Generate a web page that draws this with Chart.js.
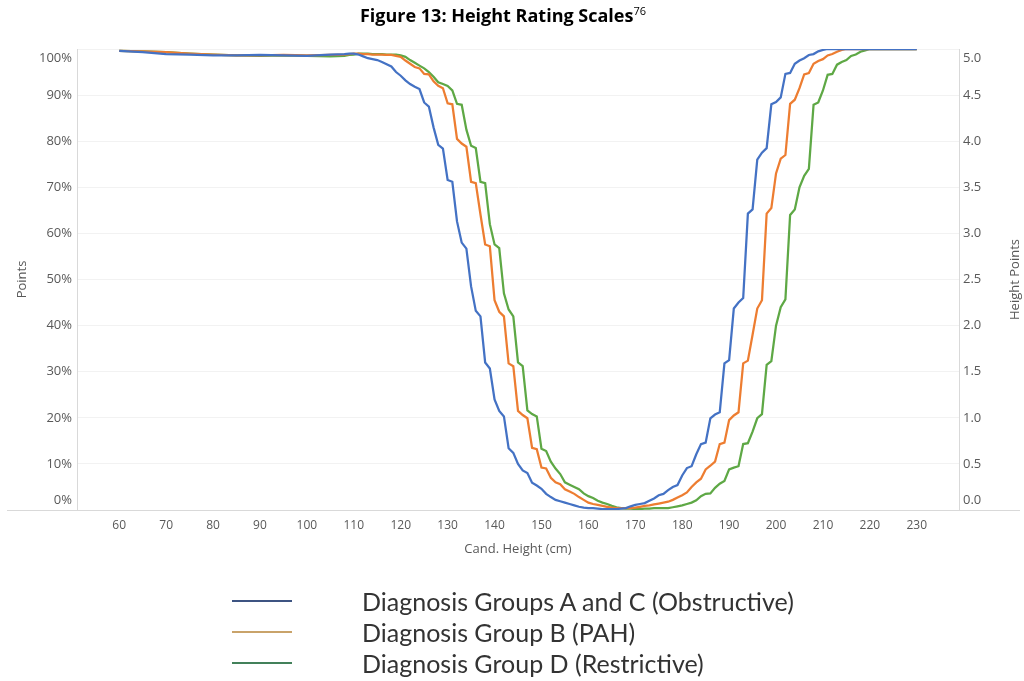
<!DOCTYPE html>
<html>
<head>
<meta charset="utf-8">
<script src="https://cdn.jsdelivr.net/npm/chart.js@4.4.0/dist/chart.umd.min.js"></script>
<style>
  html, body { margin: 0; padding: 0; background: #fff; }
  #wrap { position: relative; width: 1024px; height: 681px; overflow: hidden; font-family: "Open Sans", sans-serif; }
  #chart { position: absolute; left: 0; top: 0; }
  #title { position: absolute; left: 0; top: 3px; width: 1006px; text-align: center; font-weight: bold; font-size: 18px; color: #000; }
  #title sup { font-weight: normal; font-size: 11px; }
  #legend { position: absolute; left: 232px; top: 585px; }
  .row { height: 31px; display: flex; align-items: center; }
  .swatch { width: 60px; height: 2px; margin-right: 70px; }
  .label { font-family: Lato, sans-serif; font-size: 25px; color: #333; white-space: nowrap; }
</style>
</head>
<body>
<div id="wrap">
  <canvas id="chart" width="1024" height="681"></canvas>
  <div id="title">Figure 13: Height Rating Scales<sup>76</sup></div>
  <div id="legend"></div>
</div>
<script>
// Candidate height (cm)
const heights = [60, 65, 70, 75, 80, 85, 90, 95, 100, 105,
  108, 109, 110, 111, 112, 113, 114, 115, 116, 117,
  118, 119, 120, 121, 122, 123, 124, 125, 126, 127,
  128, 129, 130, 131, 132, 133, 134, 135, 136, 137,
  138, 139, 140, 141, 142, 143, 144, 145, 146, 147,
  148, 149, 150, 151, 152, 153, 154, 155, 156, 157,
  158, 159, 160, 161, 162, 163, 164, 165, 166, 167,
  168, 169, 170, 171, 172, 173, 174, 175, 176, 177,
  178, 179, 180, 181, 182, 183, 184, 185, 186, 187,
  188, 189, 190, 191, 192, 193, 194, 195, 196, 197,
  198, 199, 200, 201, 202, 203, 204, 205, 206, 207,
  208, 209, 210, 211, 212, 213, 214, 215, 216, 217,
  218, 219, 220, 221, 222, 225, 230]

// Points (%) per diagnosis group
const groupAC = [99.6, 99.3, 98.9, 98.8, 98.6, 98.6, 98.7, 98.6, 98.5, 98.8,
  98.9, 99.0, 99.0, 98.8, 98.4, 98.0, 97.8, 97.6, 97.2, 96.7,
  96.2, 95.0, 94.2, 93.2, 92.4, 91.8, 91.3, 88.4, 87.5, 83.0,
  79.2, 78.4, 71.6, 71.2, 62.6, 58.0, 56.7, 48.5, 43.2, 42.0,
  32.0, 30.7, 24.0, 21.5, 20.3, 13.4, 12.4, 10.0, 8.6, 8.0,
  5.9, 5.3, 4.6, 3.5, 2.8, 2.2, 1.9, 1.6, 1.3, 1.0,
  0.7, 0.5, 0.4, 0.4, 0.3, 0.2, 0.2, 0.2, 0.2, 0.3,
  0.4, 0.8, 1.1, 1.3, 1.5, 2.0, 2.5, 3.2, 3.5, 4.3,
  5.0, 5.4, 7.5, 9.1, 9.5, 12.1, 14.3, 14.6, 19.9, 20.7,
  21.2, 31.8, 32.5, 43.7, 45.0, 46.0, 64.3, 65.2, 76.0, 77.5,
  78.5, 88.0, 88.5, 89.5, 94.6, 94.8, 96.8, 97.5, 98.0, 98.7,
  98.9, 99.5, 99.8, 100, 100, 100, 100, 100, 100, 100,
  100, 100, 100, 100, 100, 100, 100]

const groupB = [99.6, 99.5, 99.3, 99.0, 98.8, 98.6, 98.6, 98.7, 98.6, 98.7,
  98.8, 98.9, 99.0, 99.0, 98.9, 98.9, 98.8, 98.8, 98.8, 98.7,
  98.7, 98.5, 98.3, 97.5, 96.8, 96.1, 95.8, 94.6, 94.5, 93.0,
  92.0, 91.5, 88.2, 88.0, 80.5, 79.5, 78.8, 71.2, 70.9, 64.1,
  57.6, 57.2, 45.5, 43.0, 42.0, 31.8, 31.2, 21.5, 20.6, 19.9,
  13.5, 13.2, 9.2, 9.0, 7.0, 6.0, 5.6, 4.5, 4.0, 3.5,
  2.8, 2.2, 1.6, 1.3, 1.1, 0.9, 0.7, 0.5, 0.4, 0.4,
  0.4, 0.4, 0.5, 0.7, 0.9, 1.0, 1.2, 1.4, 1.6, 1.8,
  2.2, 2.7, 3.2, 3.8, 5.0, 6.0, 6.8, 8.8, 9.6, 10.5,
  14.3, 14.6, 19.5, 20.5, 21.2, 31.8, 32.4, 38.0, 43.7, 45.5,
  64.3, 65.5, 73.0, 76.2, 77.0, 88.1, 89.0, 91.5, 94.5, 94.8,
  96.8, 97.4, 97.8, 98.6, 98.9, 99.4, 99.8, 100, 100, 100,
  100, 100, 100, 100, 100, 100, 100]

const groupD = [99.6, 99.5, 99.3, 99.0, 98.8, 98.6, 98.5, 98.6, 98.5, 98.4,
  98.5, 98.7, 98.8, 99.0, 99.0, 99.0, 98.9, 98.9, 98.9, 98.8,
  98.8, 98.8, 98.6, 98.3, 97.6, 97.0, 96.4, 95.8, 95.0, 94.0,
  92.8, 92.4, 92.0, 91.0, 88.1, 87.9, 82.5, 79.0, 78.5, 71.2,
  70.9, 62.0, 57.6, 56.8, 47.0, 43.5, 42.0, 32.0, 31.2, 21.6,
  20.8, 20.3, 13.3, 12.8, 10.5, 9.0, 7.8, 6.0, 5.5, 5.0,
  4.5, 3.6, 3.0, 2.6, 2.0, 1.6, 1.3, 0.9, 0.6, 0.4,
  0.3, 0.3, 0.2, 0.2, 0.3, 0.3, 0.4, 0.4, 0.4, 0.4,
  0.6, 0.8, 1.0, 1.3, 1.6, 2.1, 3.0, 3.5, 3.6, 4.8,
  5.7, 6.3, 8.8, 9.2, 9.5, 14.3, 14.5, 17.0, 19.9, 20.8,
  31.5, 32.3, 40.0, 44.0, 45.7, 64.0, 65.2, 70.0, 72.5, 74.0,
  87.9, 88.4, 91.0, 94.4, 94.6, 96.6, 97.2, 97.6, 98.5, 98.8,
  99.4, 99.7, 100, 100, 100, 100, 100]

// Tick labels
const xTicks = [60, 70, 80, 90, 100, 110, 120, 130, 140, 150, 160, 170, 180, 190, 200, 210, 220, 230]
const pctTicks = [0, 10, 20, 30, 40, 50, 60, 70, 80, 90, 100]
const heightPointTicks = [0, 0.5, 1, 1.5, 2, 2.5, 3, 3.5, 4, 4.5, 5]

const seriesNames = ["Diagnosis Groups A and C (Obstructive)", "Diagnosis Group B (PAH)", "Diagnosis Group D (Restrictive)"]
const seriesColors = ["#4472C4", "#ED7D31", "#5EA845"]
const legendColors = ["#3d5482", "#c9a36a", "#43815a"]

const fontFamily = "'Open Sans', sans-serif"
const axisGrey = "#595959"
const tickFont = { family: fontFamily, size: 13 }

const pctLabel = (v) => v + "%"
const hpLabel = (v) => Number(v).toFixed(1)

function toPoints(values) {
  return heights.map((h, i) => ({ x: h, y: values[i] }))
}

// Excel-style extras: full-width baseline, end labels pulled inward, right title bottom-to-top
const extrasPlugin = {
  id: "extras",
  afterDraw(chart) {
    const ctx = chart.ctx
    const area = chart.chartArea
    const yS = chart.scales.y
    const y1S = chart.scales.y1
    ctx.save()
    ctx.strokeStyle = "#d9d9d9"
    ctx.lineWidth = 1
    ctx.beginPath()
    ctx.moveTo(7, area.bottom + 0.5)
    ctx.lineTo(1020, area.bottom + 0.5)
    ctx.stroke()

    ctx.fillStyle = axisGrey
    ctx.font = "13px " + fontFamily
    ctx.textBaseline = "middle"
    ctx.textAlign = "right"
    ctx.fillText(pctLabel(100), area.left - 5, yS.getPixelForValue(100) + 9)
    ctx.fillText(pctLabel(0), area.left - 5, yS.getPixelForValue(0) - 10)
    ctx.textAlign = "left"
    ctx.fillText(hpLabel(5), area.right + 4, y1S.getPixelForValue(5) + 9)
    ctx.fillText(hpLabel(0), area.right + 4, y1S.getPixelForValue(0) - 10)

    ctx.translate(y1S.right - 9, (area.top + area.bottom) / 2)
    ctx.rotate(-Math.PI / 2)
    ctx.textAlign = "center"
    ctx.fillText("Height Points", 0, 0)
    ctx.restore()
  }
}

document.addEventListener("DOMContentLoaded", () => {
  const ctx = document.getElementById("chart")
  new Chart(ctx, {
    type: "line",
    data: {
      datasets: [groupAC, groupB, groupD].map((vals, i) => ({
        label: seriesNames[i],
        data: toPoints(vals),
        borderColor: seriesColors[i],
        backgroundColor: seriesColors[i],
        borderWidth: 2.25,
        pointRadius: 0,
        tension: 0,
        yAxisID: "y"
      }))
    },
    options: {
      responsive: false,
      animation: false,
      layout: { padding: { top: 49, bottom: 121, left: 0, right: 0 } },
      plugins: { legend: { display: false }, tooltip: { enabled: false } },
      scales: {
        x: {
          type: "linear",
          min: 51,
          max: 239,
          afterBuildTicks: (s) => { s.ticks = xTicks.map((v) => ({ value: v })) },
          afterFit: (s) => { s.height = 50 },
          grid: { display: false, drawTicks: false },
          border: { color: "#d9d9d9" },
          ticks: { padding: 8, color: axisGrey, font: { family: fontFamily, size: 12 }, maxRotation: 0 },
          title: { display: true, text: "Cand. Height (cm)", color: axisGrey, font: tickFont, padding: { bottom: 3 } }
        },
        y: {
          position: "left",
          min: 0,
          max: 100,
          afterBuildTicks: (s) => { s.ticks = pctTicks.map((v) => ({ value: v })) },
          afterFit: (s) => { s.width = 77 },
          grid: { color: "#f2f2f2", drawTicks: false },
          border: { color: "#d9d9d9" },
          ticks: { padding: 5, color: axisGrey, font: tickFont, callback: (v) => (v === 0 || v === 100) ? "" : pctLabel(v) },
          title: { display: true, text: "Points", color: axisGrey, font: tickFont, padding: { top: 14 } }
        },
        y1: {
          position: "right",
          min: 0,
          max: 5,
          afterBuildTicks: (s) => { s.ticks = heightPointTicks.map((v) => ({ value: v })) },
          afterFit: (s) => { s.width = 65 },
          grid: { display: false, drawTicks: false },
          border: { color: "#d9d9d9" },
          ticks: { padding: 4, color: axisGrey, font: tickFont, callback: (v) => (v === 0 || v === 5) ? "" : hpLabel(v) },
          title: { display: false }
        }
      }
    },
    plugins: [extrasPlugin]
  })

  // Legend under the chart
  const legend = document.getElementById("legend")
  seriesNames.forEach((name, i) => {
    const row = document.createElement("div")
    row.className = "row"
    const sw = document.createElement("div")
    sw.className = "swatch"
    sw.style.background = legendColors[i]
    const lab = document.createElement("span")
    lab.className = "label"
    lab.textContent = name
    row.appendChild(sw)
    row.appendChild(lab)
    legend.appendChild(row)
  })
})
</script>
</body>
</html>
